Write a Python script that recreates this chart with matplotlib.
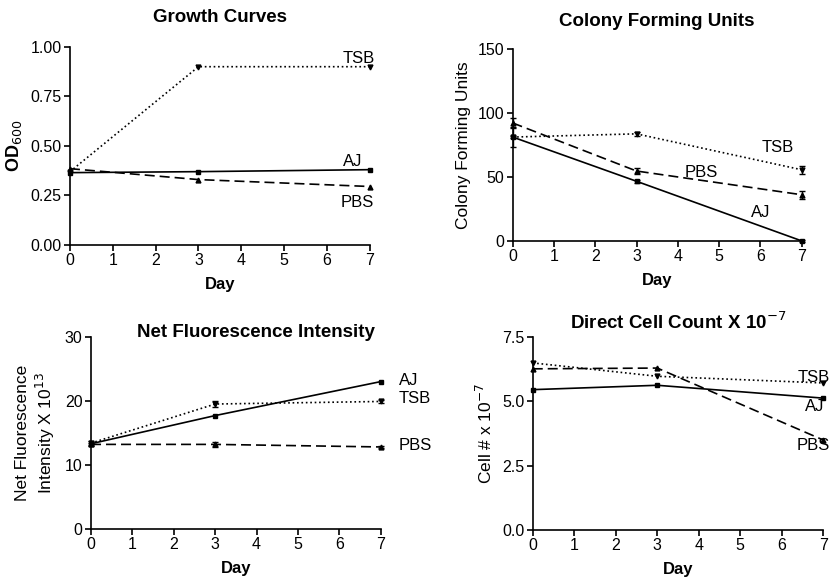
import numpy as np
import matplotlib
matplotlib.use("Agg")
import matplotlib.pyplot as plt

plt.rcParams['font.family'] = ['Liberation Sans', 'DejaVu Sans']

days = [0, 3, 7]

# Growth curves (OD600)
od_tsb = [0.37, 0.90, 0.90]
od_aj = [0.365, 0.37, 0.38]
od_pbs = [0.385, 0.33, 0.295]

# Colony forming units
cfu_tsb = [81, 83.5, 55.5]
cfu_pbs = [92, 54.5, 36]
cfu_aj = [81, 46.5, 0]
cfu_tsb_err = [8, 1.5, 3]
cfu_pbs_err = [4, 2.5, 3]
cfu_aj_err = [1, 1, 0.5]

# Net fluorescence intensity (x 10^13)
fl_aj = [13.3, 17.7, 23.0]
fl_tsb = [13.4, 19.5, 19.9]
fl_pbs = [13.2, 13.2, 12.8]
fl_tsb_err = [0.3, 0.5, 0.3]
fl_pbs_err = [0.2, 0.4, 0.1]

# Direct cell count (x 10^-7)
dc_tsb = [6.5, 5.98, 5.72]
dc_pbs = [6.27, 6.3, 3.5]
dc_aj = [5.46, 5.63, 5.13]

fig = plt.figure(figsize=(8.35, 5.79), dpi=100)

ax1 = fig.add_axes([0.0838, 0.577, 0.359, 0.342])
ax2 = fig.add_axes([0.614, 0.584, 0.346, 0.332])
ax3 = fig.add_axes([0.109, 0.0864, 0.347, 0.332])
ax4 = fig.add_axes([0.638, 0.0846, 0.348, 0.333])

def style(ax):
    for s in ['top', 'right']:
        ax.spines[s].set_visible(False)
    for s in ['left', 'bottom']:
        ax.spines[s].set_linewidth(1.2)
    ax.set_xlim(0, 7)
    ax.set_xticks(range(8))
    ax.tick_params(direction='out', length=4, width=1.2, labelsize=11.5, pad=2)
    ax.set_xlabel('Day', fontsize=12, fontweight='bold', labelpad=6)

def draw(ax, y, ls, marker, err=None):
    if err is None:
        ax.plot(days, y, color='black', ls=ls, lw=1.2, marker=marker, ms=3.5, clip_on=False)
    else:
        ax.errorbar(days, y, yerr=err, color='black', ls=ls, lw=1.2, marker=marker,
                    ms=3.5, capsize=2, elinewidth=1, clip_on=False)

# panel 1
draw(ax1, od_tsb, ':', 'v')
draw(ax1, od_aj, '-', 's')
draw(ax1, od_pbs, (0, (6, 3)), '^')
style(ax1)
ax1.set_ylim(0, 1.0)
ax1.set_yticks([0, 0.25, 0.5, 0.75, 1.0])
ax1.set_yticklabels(['0.00', '0.25', '0.50', '0.75', '1.00'])
ax1.set_ylabel('OD$_{600}$', fontsize=13, fontweight='bold', labelpad=5)
ax1.set_title('Growth Curves', fontsize=13.5, fontweight='bold', pad=18)
ax1.text(6.75, 0.94, 'TSB', fontsize=12, ha='center', va='center')
ax1.text(6.6, 0.42, 'AJ', fontsize=12, ha='center', va='center')
ax1.text(6.7, 0.215, 'PBS', fontsize=12, ha='center', va='center')

# panel 2
draw(ax2, cfu_tsb, ':', 'v', cfu_tsb_err)
draw(ax2, cfu_pbs, (0, (6, 3)), '^', cfu_pbs_err)
draw(ax2, cfu_aj, '-', 's', cfu_aj_err)
style(ax2)
ax2.set_ylim(0, 150)
ax2.set_yticks([0, 50, 100, 150])
ax2.set_ylabel('Colony Forming Units', fontsize=12.5, labelpad=5)
ax2.set_title('Colony Forming Units', fontsize=13.5, fontweight='bold', pad=16)
ax2.text(6.42, 72.5, 'TSB', fontsize=12, ha='center', va='center')
ax2.text(4.58, 53, 'PBS', fontsize=12, ha='center', va='center')
ax2.text(6.0, 22.5, 'AJ', fontsize=12, ha='center', va='center')

# panel 3
draw(ax3, fl_aj, '-', 's')
draw(ax3, fl_tsb, ':', 'v', fl_tsb_err)
draw(ax3, fl_pbs, (0, (6, 3)), '^', fl_pbs_err)
style(ax3)
ax3.set_ylim(0, 30)
ax3.set_yticks([0, 10, 20, 30])
ax3.set_ylabel('Net Fluorescence\nIntensity X 10$^{13}$', fontsize=12.5, labelpad=6)
ax3.set_title('Net Fluorescence Intensity', fontsize=13.5, fontweight='bold',
              x=0.57, y=0.955)
ax3.text(7.44, 23.1, 'AJ', fontsize=12, ha='left', va='center', clip_on=False)
ax3.text(7.44, 20.3, 'TSB', fontsize=12, ha='left', va='center', clip_on=False)
ax3.text(7.44, 13.1, 'PBS', fontsize=12, ha='left', va='center', clip_on=False)

# panel 4
draw(ax4, dc_tsb, ':', 'v')
draw(ax4, dc_pbs, (0, (6, 3)), '^')
draw(ax4, dc_aj, '-', 's')
style(ax4)
ax4.set_ylim(0, 7.5)
ax4.set_yticks([0, 2.5, 5.0, 7.5])
ax4.set_yticklabels(['0.0', '2.5', '5.0', '7.5'])
ax4.set_ylabel('Cell # x 10$^{-7}$', fontsize=12.5, labelpad=5)
ax4.set_title('Direct Cell Count X 10$^{-7}$', fontsize=13.5, fontweight='bold',
              y=1.0)
ax4.text(6.76, 5.95, 'TSB', fontsize=12, ha='center', va='center')
ax4.text(6.8, 4.79, 'AJ', fontsize=12, ha='center', va='center')
ax4.text(6.76, 3.3, 'PBS', fontsize=12, ha='center', va='center')

fig.savefig('out.png', dpi=100)
